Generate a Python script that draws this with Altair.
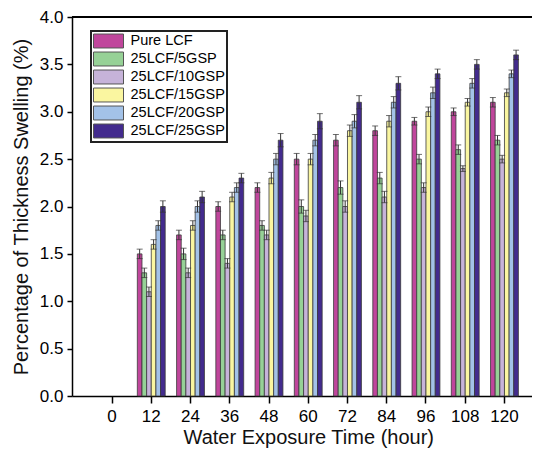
import altair as alt
import pandas as pd

hours = ["12", "24", "36", "48", "60", "72", "84", "96", "108", "120"]
x_domain = ["0"] + hours
series = ["Pure LCF", "25LCF/5GSP", "25LCF/10GSP", "25LCF/15GSP", "25LCF/20GSP", "25LCF/25GSP"]
colors = ["#C0469C", "#96D196", "#C6B3D9", "#FAF6A0", "#A3C2E8", "#432B8E"]

pure = [1.5, 1.7, 2.0, 2.2, 2.5, 2.7, 2.8, 2.9, 3.0, 3.1]
gsp5 = [1.3, 1.5, 1.7, 1.8, 2.0, 2.2, 2.3, 2.5, 2.6, 2.7]
gsp10 = [1.1, 1.3, 1.4, 1.7, 1.9, 2.0, 2.1, 2.2, 2.4, 2.5]
gsp15 = [1.6, 1.8, 2.1, 2.3, 2.5, 2.8, 2.9, 3.0, 3.1, 3.2]
gsp20 = [1.8, 2.0, 2.2, 2.5, 2.7, 2.9, 3.1, 3.2, 3.3, 3.4]
gsp25 = [2.0, 2.1, 2.3, 2.7, 2.9, 3.1, 3.3, 3.4, 3.5, 3.6]

err_pure = [0.05, 0.05, 0.05, 0.05, 0.06, 0.06, 0.05, 0.04, 0.04, 0.05]
err_gsp5 = [0.05, 0.06, 0.05, 0.05, 0.07, 0.07, 0.06, 0.05, 0.05, 0.05]
err_gsp10 = [0.05, 0.05, 0.05, 0.05, 0.06, 0.06, 0.06, 0.05, 0.03, 0.04]
err_gsp15 = [0.05, 0.05, 0.05, 0.06, 0.06, 0.06, 0.06, 0.05, 0.04, 0.04]
err_gsp20 = [0.05, 0.06, 0.05, 0.06, 0.06, 0.07, 0.06, 0.06, 0.05, 0.04]
err_gsp25 = [0.06, 0.06, 0.05, 0.07, 0.08, 0.07, 0.07, 0.05, 0.05, 0.05]

values = [pure, gsp5, gsp10, gsp15, gsp20, gsp25]
errors = [err_pure, err_gsp5, err_gsp10, err_gsp15, err_gsp20, err_gsp25]

rows = []
for s, vals, errs in zip(series, values, errors):
    for h, v, e in zip(hours, vals, errs):
        rows.append({"hour": h, "series": s, "value": v, "lo": v - e, "hi": v + e})
df = pd.DataFrame(rows)

FONT = "Liberation Sans"

x_enc = alt.X(
    "hour:O",
    scale=alt.Scale(domain=x_domain, paddingInner=0.29, paddingOuter=0.665, range=[0, 472.5]),
    sort=x_domain,
    axis=alt.Axis(title="Water Exposure Time (hour)", labelAngle=0, labelPadding=5,
                  tickSize=7, titlePadding=3),
)
xoff = alt.XOffset("series:N", sort=series,
                   scale=alt.Scale(domain=series, paddingInner=0, paddingOuter=0))
y_scale = alt.Scale(domain=[0, 4], nice=False)

bars = alt.Chart(df).mark_bar(stroke="#3a3a3a", strokeWidth=0.8, opacity=1).encode(
    x=x_enc,
    xOffset=xoff,
    y=alt.Y("value:Q", scale=y_scale,
            axis=alt.Axis(title="Percentage of Thickness Swelling (%)", values=[0, 0.5, 1, 1.5, 2, 2.5, 3, 3.5, 4],
                          format=".1f", grid=False, tickSize=5, labelPadding=4, titlePadding=8)),
    color=alt.Color("series:N", sort=series,
                    scale=alt.Scale(domain=series, range=colors),
                    legend=alt.Legend(
                        title=None, orient="none", legendX=19, legendY=14,
                        symbolType="M-2,-0.93H2V0.93H-2Z", symbolSize=225,
                        symbolOffset=7.5, labelOffset=14,
                        symbolStrokeColor="#555", symbolStrokeWidth=1, symbolOpacity=1,
                        strokeColor="#222", padding=2, rowPadding=0,
                        labelFontSize=14.5, labelFont=FONT, labelColor="black",
                    )),
)

rule = alt.Chart(df).mark_rule(color="#333", strokeWidth=1).encode(
    x=x_enc, xOffset=xoff, y=alt.Y("lo:Q", scale=y_scale), y2="hi:Q"
)
cap_hi = alt.Chart(df).mark_tick(color="#333", thickness=1, size=6).encode(
    x=x_enc, xOffset=xoff, y=alt.Y("hi:Q", scale=y_scale)
)
cap_lo = alt.Chart(df).mark_tick(color="#333", thickness=1, size=6).encode(
    x=x_enc, xOffset=xoff, y=alt.Y("lo:Q", scale=y_scale)
)
top_line = alt.Chart(df).mark_rule(color="black", strokeWidth=1.5).encode(
    x=alt.value(0), x2=alt.value(460), y=alt.value(0)
)

chart = alt.layer(bars, rule, cap_hi, cap_lo, top_line).properties(
    width=460, height=379,
    autosize=alt.AutoSizeParams(type="none"),
    padding={"left": 64, "top": 9, "right": 0, "bottom": 54},
).configure_view(stroke=None).configure_axis(
    domainColor="black", domainWidth=1.5, tickColor="black", tickWidth=1.5,
    labelFont=FONT, titleFont=FONT, labelFontSize=17, titleFontSize=20,
    labelColor="black", titleColor="#111", titleFontWeight="normal",
).configure_legend(strokeWidth=2)

chart.save("out.html", embed_options={"renderer": "svg", "actions": False})
